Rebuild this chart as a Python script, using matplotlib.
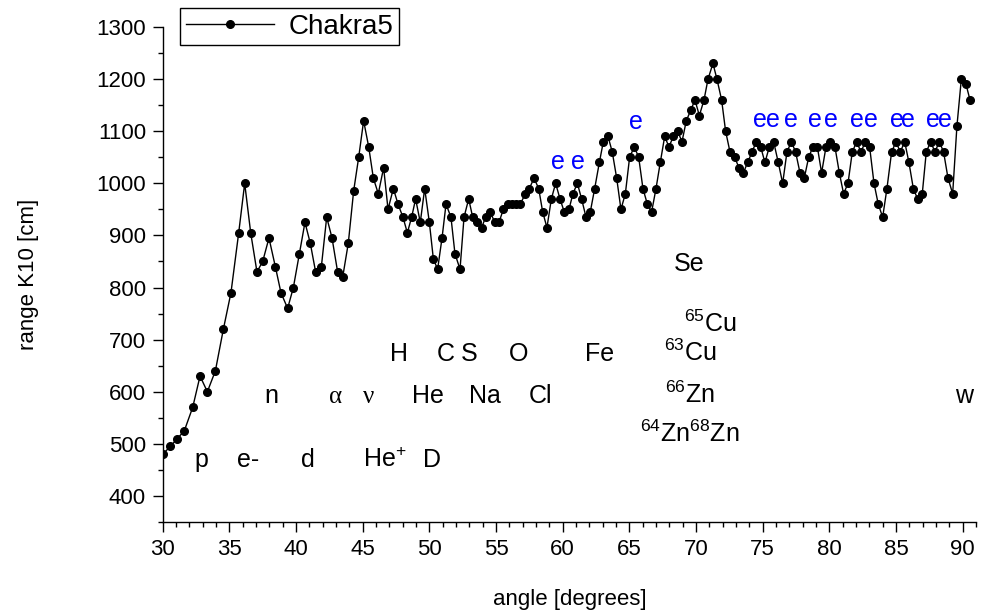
import matplotlib as mpl
mpl.use('agg')
import matplotlib.pyplot as plt
from matplotlib.ticker import MultipleLocator

plt.rcParams['font.family'] = ['Liberation Sans', 'DejaVu Sans']
plt.rcParams['mathtext.fontset'] = 'custom'
plt.rcParams['mathtext.rm'] = 'Liberation Sans'

# angle [degrees] and range K10 [cm]
angle = [30.0, 30.57, 31.1, 31.62, 32.25, 32.8, 33.35, 33.95, 34.55, 35.12,
         35.7, 36.15, 36.6, 37.07, 37.5, 37.97, 38.45, 38.87, 39.37, 39.8,
         40.25, 40.67, 41.07, 41.47, 41.9, 42.3, 42.7, 43.12, 43.5, 43.92,
         44.32, 44.7, 45.07, 45.45, 45.8, 46.17, 46.57, 46.9, 47.3, 47.65,
         48.02, 48.35, 48.67, 48.97, 49.32, 49.65, 50.0, 50.3, 50.62, 50.95,
         51.25, 51.62, 51.92, 52.3, 52.6, 52.95, 53.25, 53.6, 53.92, 54.22,
         54.55, 54.92, 55.22, 55.55, 55.87, 56.17, 56.5, 56.82, 57.2, 57.5,
         57.85, 58.2, 58.5, 58.82, 59.15, 59.47, 59.8, 60.12, 60.47, 60.77,
         61.1, 61.42, 61.75, 62.07, 62.4, 62.75, 63.05, 63.4, 63.72, 64.05,
         64.37, 64.7, 65.02, 65.37, 65.7, 66.02, 66.35, 66.67, 67.0, 67.32,
         67.65, 67.97, 68.3, 68.62, 68.95, 69.27, 69.6, 69.92, 70.25, 70.6,
         70.9, 71.27, 71.57, 71.92, 72.22, 72.55, 72.9, 73.22, 73.55, 73.87,
         74.2, 74.52, 74.85, 75.17, 75.5, 75.82, 76.17, 76.5, 76.82, 77.15,
         77.47, 77.8, 78.12, 78.45, 78.77, 79.1, 79.42, 79.75, 80.07, 80.42,
         80.75, 81.07, 81.4, 81.72, 82.05, 82.37, 82.7, 83.02, 83.35, 83.67,
         84.0, 84.32, 84.67, 85.0, 85.32, 85.65, 85.97, 86.3, 86.62, 86.97,
         87.27, 87.6, 87.92, 88.25, 88.57, 88.9, 89.25, 89.57, 89.9, 90.25,
         90.55]
range_k10 = [480, 495, 510, 525, 570, 630, 600, 640, 720, 790,
             905, 1000, 905, 830, 850, 895, 840, 790, 760, 800,
             865, 925, 885, 830, 840, 935, 895, 830, 820, 885,
             985, 1050, 1120, 1070, 1010, 980, 1030, 950, 990, 960,
             935, 905, 935, 970, 925, 990, 925, 855, 835, 895,
             960, 935, 865, 835, 935, 970, 935, 925, 915, 935,
             945, 925, 925, 950, 960, 960, 960, 960, 980, 990,
             1010, 990, 945, 915, 970, 1000, 970, 945, 950, 980,
             1000, 970, 935, 945, 990, 1040, 1080, 1090, 1060, 1010,
             950, 980, 1050, 1070, 1050, 990, 960, 945, 990, 1040,
             1090, 1070, 1090, 1100, 1080, 1120, 1140, 1160, 1130, 1160,
             1200, 1230, 1200, 1160, 1100, 1060, 1050, 1030, 1020, 1040,
             1060, 1080, 1070, 1040, 1070, 1080, 1040, 1000, 1060, 1080,
             1060, 1020, 1010, 1050, 1070, 1070, 1020, 1070, 1080, 1070,
             1020, 980, 1000, 1060, 1080, 1060, 1080, 1070, 1000, 960,
             935, 990, 1060, 1080, 1060, 1080, 1040, 990, 970, 980,
             1060, 1080, 1060, 1080, 1060, 1010, 980, 1110, 1200, 1190,
             1160]

# particle labels: (text, angle, range of baseline)
labels = [('p', 32.87, 455), ('e-', 36.4, 455), ('d', 40.9, 455),
          ('He$^\\mathregular{+}$', 46.67, 455), ('D', 50.2, 455),
          ('n', 38.12, 579), ('He', 49.9, 579), ('Na', 54.17, 579),
          ('Cl', 58.3, 579), ('w', 90.1, 579),
          ('H', 47.72, 659), ('C', 51.25, 659), ('S', 52.97, 659),
          ('O', 56.72, 659), ('Fe', 62.8, 659),
          ('Se', 69.45, 832),
          ('$^\\mathregular{65}$Cu', 71.05, 715),
          ('$^\\mathregular{63}$Cu', 69.55, 659),
          ('$^\\mathregular{66}$Zn', 69.55, 579),
          ('$^\\mathregular{64}$Zn$^\\mathregular{68}$Zn', 69.55, 504)]
greek = [('\u03b1', 43.0, 579), ('\u03bd', 45.47, 579)]
e_angle = [59.65, 61.15, 65.46, 74.8, 75.8, 77.15, 78.95, 80.1, 82.05,
           83.1, 85.05, 85.9, 87.75, 88.65]
e_range = [1027, 1027, 1105, 1109, 1109, 1109, 1109, 1109, 1109,
           1109, 1109, 1109, 1109, 1109]

fig = plt.figure(figsize=(9.81, 6.16), dpi=100)
ax = fig.add_axes([162.7 / 981, (616 - 522) / 616, (976 - 162.7) / 981, (522 - 27) / 616])

ax.plot(angle, range_k10, color='black', lw=1, marker='o', ms=5.5, label='Chakra5')

for txt, x, y in labels:
    ax.text(x, y, txt, fontsize=18, ha='center', va='baseline')
for txt, x, y in greek:
    ax.text(x, y, txt, fontsize=18, ha='center', va='baseline', family='Liberation Serif')
for x, y in zip(e_angle, e_range):
    ax.text(x, y, 'e', fontsize=18, ha='center', va='baseline', color='#0000ff')

ax.set_xlim(30, 91)
ax.set_ylim(350, 1300)
ax.xaxis.set_major_locator(MultipleLocator(5))
ax.xaxis.set_minor_locator(MultipleLocator(1))
ax.yaxis.set_major_locator(MultipleLocator(100))
ax.yaxis.set_minor_locator(MultipleLocator(50))
ax.tick_params(which='major', length=7, width=1, labelsize=16, direction='out', pad=5)
ax.tick_params(which='minor', length=3.5, width=1, direction='out')
for s in ['top', 'right']:
    ax.spines[s].set_visible(False)
for s in ['left', 'bottom']:
    ax.spines[s].set_linewidth(1)

ax.set_xlabel('angle [degrees]', fontsize=16, labelpad=21)
ax.set_ylabel('range K10 [cm]', fontsize=16, labelpad=41)

leg = ax.legend(loc='upper left', bbox_to_anchor=(180 / 981, 1 - 8 / 616),
                bbox_transform=fig.transFigure, fontsize=20, frameon=True,
                fancybox=False, edgecolor='black', framealpha=1,
                handlelength=3.2, handletextpad=0.5, borderaxespad=0,
                borderpad=0.2)
leg.get_frame().set_linewidth(1)

fig.savefig('out.png', dpi=100)
